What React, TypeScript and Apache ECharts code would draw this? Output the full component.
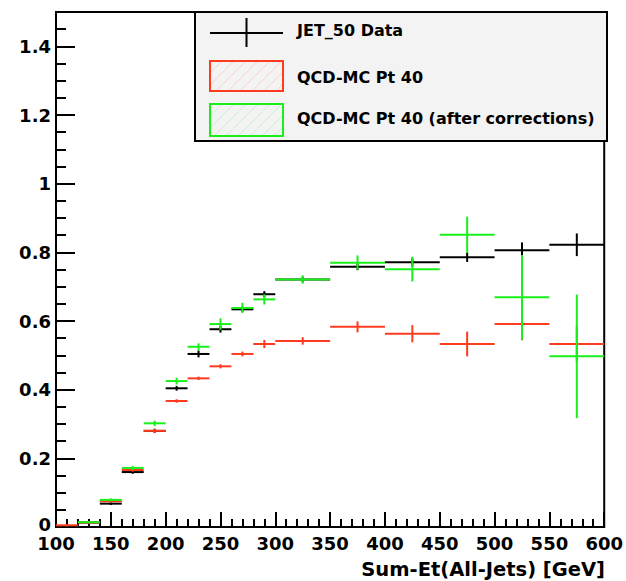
import React, { useEffect, useRef } from "react";
import * as echarts from "echarts";

const binLo = [100, 120, 140, 160, 180, 200, 220, 240, 260, 280, 300, 350, 400, 450, 500, 550];
const binHi = [120, 140, 160, 180, 200, 220, 240, 260, 280, 300, 350, 400, 450, 500, 550, 600];

const dataVals = [null, 0.013, 0.068, 0.16, 0.28, 0.404, 0.504, 0.576, 0.634, 0.678, 0.721, 0.758, 0.771, 0.786, 0.806, 0.822];
const dataErr = [0.002, 0.003, 0.004, 0.005, 0.006, 0.007, 0.01, 0.01, 0.008, 0.009, 0.008, 0.01, 0.012, 0.014, 0.023, 0.033];

const mcVals = [0.005, 0.013, 0.075, 0.166, 0.28, 0.367, 0.433, 0.468, 0.504, 0.533, 0.542, 0.583, 0.563, 0.533, 0.591, 0.533];
const mcErr = [0.003, 0.003, 0.004, 0.005, 0.006, 0.005, 0.005, 0.006, 0.007, 0.012, 0.011, 0.016, 0.025, 0.036, 0.047, 0.05];

const corrVals = [null, 0.014, 0.079, 0.172, 0.302, 0.425, 0.525, 0.591, 0.638, 0.663, 0.721, 0.77, 0.751, 0.851, 0.669, 0.497];
const corrErr = [0.003, 0.003, 0.004, 0.006, 0.008, 0.01, 0.01, 0.017, 0.015, 0.015, 0.012, 0.021, 0.036, 0.053, 0.123, 0.18];

const legendLabels = ["JET_50 Data", "QCD-MC Pt 40", "QCD-MC Pt 40 (after corrections)"];
const xTitle = "Sum-Et(All-Jets) [GeV]";

const BLACK = "#000000";
const RED = "#ff3b1f";
const GREEN = "#19f019";
const FONT = "DejaVu Sans";

function build(vals: (number | null)[], errs: number[]) {
  const out: number[][] = [];
  binLo.forEach((lo, i) => {
    const v = vals[i];
    if (v != null) out.push([lo, binHi[i], v, errs[i]]);
  });
  return out;
}

function histSeries(name: string, vals: (number | null)[], errs: number[], color: string) {
  return {
    type: "custom",
    name,
    data: build(vals, errs),
    encode: { x: [0, 1], y: 2 },
    renderItem: (params: any, api: any) => {
      const lo = api.value(0);
      const hi = api.value(1);
      const v = api.value(2);
      const e = api.value(3);
      const p0 = api.coord([lo, v]);
      const p1 = api.coord([hi, v]);
      const mid = (lo + hi) / 2;
      const t = api.coord([mid, v + e]);
      const b = api.coord([mid, v - e]);
      return {
        type: "group",
        children: [
          { type: "line", shape: { x1: p0[0], y1: p0[1], x2: p1[0], y2: p1[1] }, style: { stroke: color, lineWidth: 2 } },
          { type: "line", shape: { x1: t[0], y1: t[1], x2: b[0], y2: b[1] }, style: { stroke: color, lineWidth: 2 } },
        ],
      };
    },
  };
}

function hatch(x0: number, y0: number, w: number, h: number, color: string) {
  const lines: any[] = [];
  for (let c = x0 - h; c < x0 + w; c += 12) {
    let sx = c, sy = y0 + h, ex = c + h, ey = y0;
    if (sx < x0) { sy = y0 + h - (x0 - sx); sx = x0; }
    if (ex > x0 + w) { ey = y0 + (ex - (x0 + w)); ex = x0 + w; }
    if (ex > sx) lines.push({ type: "line", shape: { x1: sx, y1: sy, x2: ex, y2: ey }, style: { stroke: color, lineWidth: 1, opacity: 0.18 } });
  }
  return lines;
}

export default function App() {
  const ref = useRef<HTMLDivElement>(null);
  useEffect(() => {
    document.body.style.margin = "0";
    const chart = echarts.init(ref.current!, null, { renderer: "svg" });
    const labelStyle = { fontFamily: FONT, fontWeight: "bold", fontSize: 18, lineHeight: 15, color: "#000" };
    chart.setOption({
      animation: false,
      backgroundColor: "#ffffff",
      grid: { left: 56, right: 19, top: 12, bottom: 54, show: true, borderColor: "#000", borderWidth: 2, backgroundColor: "#fff" },
      xAxis: {
        type: "value",
        min: 100,
        max: 600,
        interval: 50,
        axisLine: { show: true, lineStyle: { color: "#000", width: 2 } },
        axisTick: { show: true, inside: true, length: 15, lineStyle: { color: "#000", width: 2 } },
        minorTick: { show: true, splitNumber: 5, length: 8, lineStyle: { color: "#000", width: 2 } },
        splitLine: { show: false },
        axisLabel: { ...labelStyle, margin: 9 },
      },
      yAxis: {
        type: "value",
        min: 0,
        max: 1.5,
        interval: 0.2,
        axisLine: { show: true, lineStyle: { color: "#000", width: 2 } },
        axisTick: { show: true, inside: true, length: 19, lineStyle: { color: "#000", width: 2 } },
        minorTick: { show: true, splitNumber: 4, length: 10, lineStyle: { color: "#000", width: 2 } },
        splitLine: { show: false },
        axisLabel: {
          ...labelStyle,
          margin: 5,
          showMaxLabel: false,
          formatter: (v: number) => (v === 0 ? "{z|0}" : String(v)),
          rich: { z: { fontFamily: FONT, fontWeight: "bold", fontSize: 18, lineHeight: 15, color: "#000", padding: [0, 0, 5, 0] } },
        },
      },
      series: [
        histSeries(legendLabels[0], dataVals, dataErr, BLACK),
        histSeries(legendLabels[1], mcVals, mcErr, RED),
        histSeries(legendLabels[2], corrVals, corrErr, GREEN),
      ],
      graphic: [
        {
          type: "text",
          right: 21,
          top: 559,
          style: { text: xTitle, fontFamily: FONT, fontWeight: "bold", fontSize: 19.5, lineHeight: 19, fill: "#000" },
        },
        {
          type: "group",
          children: [
            { type: "rect", shape: { x: 195, y: 12, width: 412, height: 129 }, style: { fill: "#f3f3f3", stroke: "#000", lineWidth: 2 } },
            { type: "line", shape: { x1: 210, y1: 33, x2: 283, y2: 33 }, style: { stroke: BLACK, lineWidth: 2 } },
            { type: "line", shape: { x1: 246.5, y1: 18, x2: 246.5, y2: 47 }, style: { stroke: BLACK, lineWidth: 2 } },
            ...hatch(210, 61, 73, 30, RED),
            { type: "rect", shape: { x: 210, y: 61, width: 73, height: 30 }, style: { fill: "none", stroke: RED, lineWidth: 2 } },
            ...hatch(210, 104, 73, 32, GREEN),
            { type: "rect", shape: { x: 210, y: 104, width: 73, height: 32 }, style: { fill: "none", stroke: GREEN, lineWidth: 2 } },
            { type: "text", x: 297, y: 30, style: { text: legendLabels[0], fontFamily: FONT, fontWeight: "bold", fontSize: 16, fill: "#000", verticalAlign: "middle" } },
            { type: "text", x: 297, y: 77, style: { text: legendLabels[1], fontFamily: FONT, fontWeight: "bold", fontSize: 16, fill: "#000", verticalAlign: "middle" } },
            { type: "text", x: 297, y: 118, style: { text: legendLabels[2], fontFamily: FONT, fontWeight: "bold", fontSize: 16, fill: "#000", verticalAlign: "middle" } },
          ],
        },
      ],
    });
    return () => chart.dispose();
  }, []);
  return <div ref={ref} style={{ width: 626, height: 581 }} />;
}
